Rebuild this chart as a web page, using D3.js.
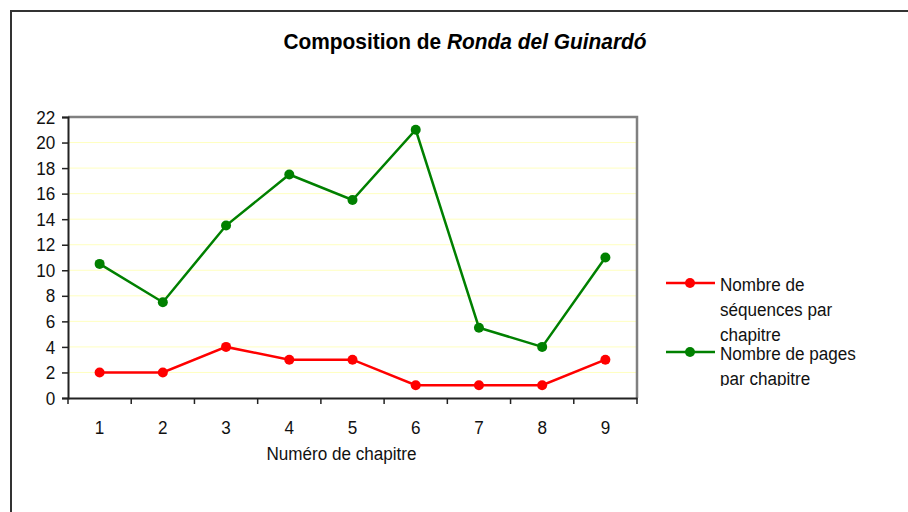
<!DOCTYPE html>
<html>
<head>
<meta charset="utf-8">
<script src="https://cdn.jsdelivr.net/npm/d3@7"></script>
<style>
  body { margin: 0; background: #fff; }
  svg { display: block; font-family: "Liberation Sans", Arial, sans-serif; }
</style>
</head>
<body>
<div class="container"></div>
<script>
var chapitres = [1, 2, 3, 4, 5, 6, 7, 8, 9];
var sequences = [2, 2, 4, 3, 3, 1, 1, 1, 3];
var pages = [10.5, 7.5, 13.5, 17.5, 15.5, 21, 5.5, 4, 11];
var yTicks = [0, 2, 4, 6, 8, 10, 12, 14, 16, 18, 20, 22];
var series = [
  {name: ["Nombre de", "séquences par", "chapitre"], values: sequences, color: "#ff0000"},
  {name: ["Nombre de pages", "par chapitre"], values: pages, color: "#008000"}
];

var W = 908, H = 512;
var margin = {top: 117, left: 68, right: 271, bottom: 114};
var width = W - margin.left - margin.right,
    height = H - margin.top - margin.bottom;

var svg = d3.select(".container").append("svg")
  .attr("width", W).attr("height", H);

// narrow-looking text: bigger font squeezed horizontally
function label(parent, x, y, txt, anchor) {
  return parent.append("g")
    .attr("transform", "translate(" + x + "," + y + ") scale(0.9,1)")
    .append("text")
    .attr("text-anchor", anchor || "start")
    .attr("font-size", 19).attr("fill", "#111")
    .text(txt);
}

// outer frame
svg.append("path")
  .attr("d", "M11," + H + "V11H" + (W + 5))
  .attr("fill", "none")
  .attr("stroke", "#333")
  .attr("stroke-width", 2);

svg.append("g")
  .attr("transform", "translate(465,49) scale(0.95,1)")
  .append("text")
  .attr("text-anchor", "middle")
  .attr("font-size", 22)
  .attr("font-weight", "bold")
  .attr("fill", "#000")
  .call(function(t) {
    t.append("tspan").text("Composition de ");
    t.append("tspan").attr("font-style", "italic").text("Ronda del Guinardó");
  });

var g = svg.append("g")
  .attr("transform", "translate(" + margin.left + "," + margin.top + ")");

var x = d3.scaleBand().domain(chapitres).range([0, width]);
var y = d3.scaleLinear().domain([0, 22]).range([height, 0]);

// grid
g.selectAll(".grid").data(yTicks.slice(1, -1)).enter().append("line")
  .attr("x1", 0).attr("x2", width)
  .attr("y1", d => y(d)).attr("y2", d => y(d))
  .attr("stroke", "#ffffc0").attr("stroke-width", 1);

// plot border top/right
g.append("path")
  .attr("d", "M0,0H" + width + "V" + height)
  .attr("fill", "none").attr("stroke", "#808080").attr("stroke-width", 2.5);

var yAxis = g.append("g")
  .call(d3.axisLeft(y).tickValues(yTicks).tickSize(6).tickPadding(6));
var xAxis = g.append("g")
  .attr("transform", "translate(0," + height + ")")
  .call(d3.axisBottom(x).tickSize(0).tickPadding(23));

// x ticks at band boundaries
var bounds = chapitres.map(d => x(d)).concat([width]);
xAxis.selectAll(".bt").data(bounds).enter().append("line")
  .attr("x1", d => d).attr("x2", d => d)
  .attr("y1", 0).attr("y2", 6)
  .attr("stroke", "#222").attr("stroke-width", 1.5);

[yAxis, xAxis].forEach(function(a) {
  a.select(".domain").attr("stroke", "#222").attr("stroke-width", 2);
  a.selectAll(".tick line").attr("stroke", "#222").attr("stroke-width", 1.5);
  a.selectAll("text").attr("font-size", 19).attr("fill", "#111")
    .style("font-family", "'Liberation Sans', Arial, sans-serif");
});
yAxis.selectAll(".tick text").attr("x", -13).attr("transform", "translate(-1,0) scale(0.9,1)");
xAxis.selectAll(".tick text").attr("transform", "scale(0.9,1)");

label(g, width / 2 - 11, height + 62, "Numéro de chapitre", "middle");

var line = d3.line()
  .x((d, i) => x(chapitres[i]) + x.bandwidth() / 2)
  .y(d => y(d));

series.forEach(function(s) {
  g.append("path").datum(s.values)
    .attr("fill", "none").attr("stroke", s.color).attr("stroke-width", 2.5)
    .attr("d", line);
  g.selectAll(null).data(s.values).enter().append("circle")
    .attr("cx", (d, i) => x(chapitres[i]) + x.bandwidth() / 2)
    .attr("cy", d => y(d))
    .attr("r", 5).attr("fill", s.color);
});

// legend
svg.append("clipPath").attr("id", "legclip")
  .append("rect").attr("x", 600).attr("y", 260).attr("width", 300).attr("height", 126);
var leg = svg.append("g").attr("clip-path", "url(#legclip)");
var legY = [283, 352];
series.forEach(function(s, k) {
  leg.append("line")
    .attr("x1", 666).attr("x2", 715)
    .attr("y1", legY[k]).attr("y2", legY[k])
    .attr("stroke", s.color).attr("stroke-width", 2.5);
  leg.append("circle").attr("cx", 690).attr("cy", legY[k]).attr("r", 5).attr("fill", s.color);
  s.name.forEach(function(t, j) {
    label(leg, 720, legY[k] + 8 + j * 25, t);
  });
});
</script>
</body>
</html>
